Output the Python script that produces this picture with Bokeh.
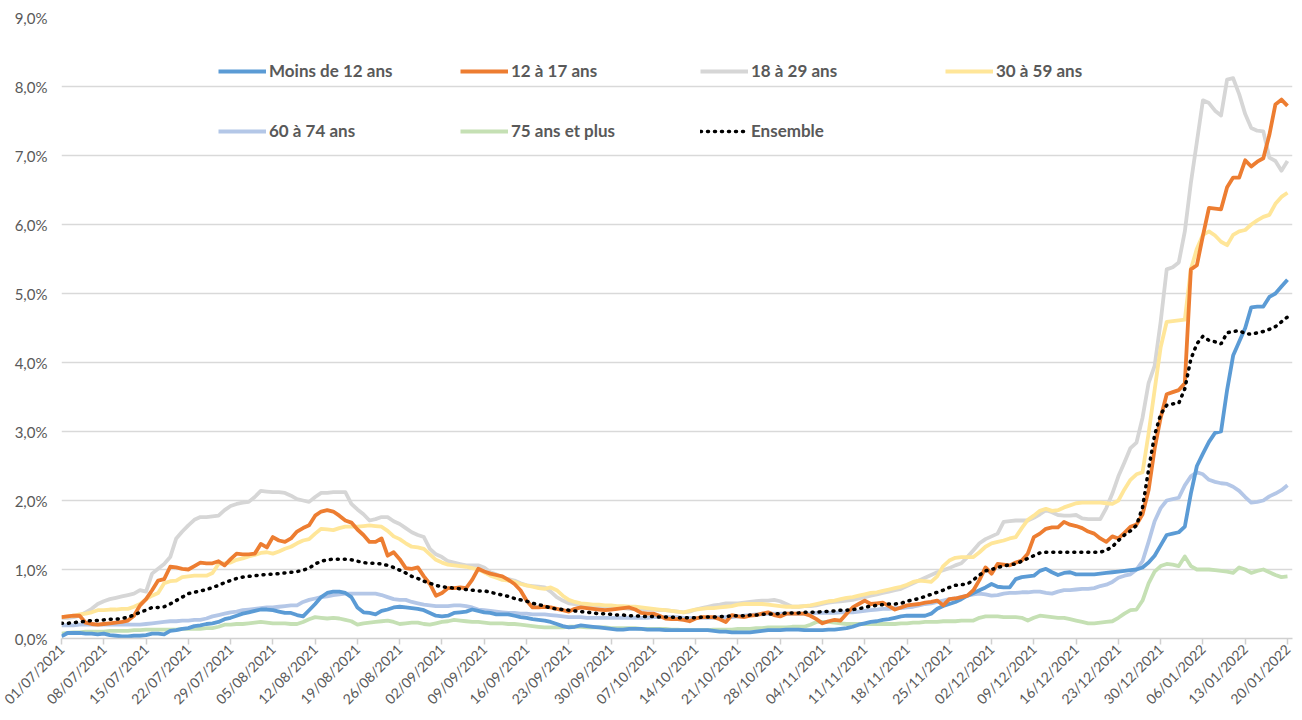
import math
from bokeh.plotting import figure
from bokeh.models import FixedTicker, Legend, LegendItem
from bokeh.embed import file_html
from bokeh.resources import INLINE

x_tick_labels = [
    "01/07/2021", "08/07/2021", "15/07/2021", "22/07/2021", "29/07/2021",
    "05/08/2021", "12/08/2021", "19/08/2021", "26/08/2021", "02/09/2021",
    "09/09/2021", "16/09/2021", "23/09/2021", "30/09/2021", "07/10/2021",
    "14/10/2021", "21/10/2021", "28/10/2021", "04/11/2021", "11/11/2021",
    "18/11/2021", "25/11/2021", "02/12/2021", "09/12/2021", "16/12/2021",
    "23/12/2021", "30/12/2021", "06/01/2022", "13/01/2022", "20/01/2022",
]
y_tick_labels = ["0,0%", "1,0%", "2,0%", "3,0%", "4,0%", "5,0%", "6,0%", "7,0%", "8,0%", "9,0%"]

series_names = ["Moins de 12 ans", "12 à 17 ans", "18 à 29 ans", "30 à 59 ans",
                "60 à 74 ans", "75 ans et plus", "Ensemble"]

# daily values (%), 01/07/2021 -> 20/01/2022, one row per week
moins12 = [
    0.03, 0.08, 0.08, 0.08, 0.07, 0.07, 0.06,
    0.07, 0.05, 0.04, 0.03, 0.03, 0.04, 0.04,
    0.05, 0.07, 0.07, 0.06, 0.11, 0.12, 0.14,
    0.15, 0.18, 0.19, 0.21, 0.22, 0.24, 0.28,
    0.30, 0.33, 0.36, 0.38, 0.40, 0.42, 0.42,
    0.41, 0.39, 0.37, 0.37, 0.34, 0.32, 0.41,
    0.50, 0.60, 0.66, 0.68, 0.68, 0.66, 0.60,
    0.45, 0.38, 0.37, 0.35, 0.40, 0.42, 0.45,
    0.46, 0.45, 0.44, 0.43, 0.41, 0.37, 0.33,
    0.32, 0.33, 0.37, 0.38, 0.39, 0.42, 0.40,
    0.38, 0.37, 0.35, 0.35, 0.35, 0.33, 0.31,
    0.30, 0.28, 0.27, 0.26, 0.24, 0.21, 0.18,
    0.16, 0.17, 0.19, 0.18, 0.17, 0.16, 0.15,
    0.14, 0.13, 0.13, 0.14, 0.14, 0.14, 0.13,
    0.13, 0.13, 0.12, 0.12, 0.12, 0.12, 0.12,
    0.12, 0.12, 0.12, 0.11, 0.10, 0.10, 0.09,
    0.09, 0.09, 0.09, 0.10, 0.11, 0.12, 0.12,
    0.12, 0.13, 0.13, 0.13, 0.12, 0.12, 0.12,
    0.12, 0.13, 0.13, 0.14, 0.15, 0.17, 0.20,
    0.22, 0.24, 0.25, 0.27, 0.28, 0.30, 0.32,
    0.33, 0.33, 0.33, 0.33, 0.36, 0.43, 0.47,
    0.50, 0.53, 0.57, 0.62, 0.66, 0.70, 0.74,
    0.79, 0.75, 0.74, 0.74, 0.86, 0.89, 0.90,
    0.91, 0.98, 1.01, 0.96, 0.92, 0.95, 0.96,
    0.93, 0.93, 0.93, 0.93, 0.94, 0.95, 0.96,
    0.97, 0.98, 0.99, 1.00, 1.03, 1.10, 1.20,
    1.35, 1.50, 1.52, 1.54, 1.62, 2.10, 2.50,
    2.68, 2.85, 2.98, 3.00, 3.60, 4.10, 4.30,
    4.50, 4.80, 4.81, 4.81, 4.95, 5.00, 5.10,
    5.20,
]
ans12_17 = [
    0.31, 0.32, 0.33, 0.33, 0.23, 0.21, 0.20,
    0.21, 0.22, 0.23, 0.24, 0.26, 0.33, 0.48,
    0.57, 0.70, 0.84, 0.86, 1.04, 1.03, 1.01,
    1.00, 1.05, 1.10, 1.09, 1.09, 1.12, 1.06,
    1.15, 1.23, 1.22, 1.22, 1.23, 1.37, 1.32,
    1.47, 1.42, 1.40, 1.45, 1.55, 1.60, 1.64,
    1.78, 1.84, 1.86, 1.84, 1.78, 1.71, 1.68,
    1.58, 1.50, 1.40, 1.40, 1.45, 1.20, 1.25,
    1.15, 1.02, 1.01, 1.03, 0.90, 0.79, 0.62,
    0.66, 0.73, 0.73, 0.74, 0.73, 0.85, 1.01,
    0.97, 0.94, 0.92, 0.90, 0.85, 0.79, 0.70,
    0.55, 0.45, 0.45, 0.46, 0.45, 0.43, 0.41,
    0.39, 0.43, 0.45, 0.44, 0.43, 0.42, 0.41,
    0.42, 0.43, 0.44, 0.45, 0.42, 0.37, 0.36,
    0.36, 0.33, 0.29, 0.28, 0.28, 0.27, 0.25,
    0.29, 0.31, 0.31, 0.31, 0.28, 0.24, 0.34,
    0.32, 0.31, 0.33, 0.34, 0.36, 0.38, 0.34,
    0.32, 0.36, 0.36, 0.36, 0.36, 0.33, 0.28,
    0.22, 0.25, 0.27, 0.26, 0.36, 0.45, 0.50,
    0.55, 0.50, 0.51, 0.52, 0.47, 0.42, 0.45,
    0.48, 0.49, 0.50, 0.52, 0.53, 0.55, 0.48,
    0.57, 0.58, 0.60, 0.62, 0.70, 0.85, 1.03,
    0.94, 1.08, 1.07, 1.06, 1.10, 1.13, 1.23,
    1.47, 1.52, 1.59, 1.61, 1.61, 1.69, 1.65,
    1.63, 1.60, 1.55, 1.52, 1.45, 1.40, 1.48,
    1.45, 1.53, 1.62, 1.65, 1.80, 2.15, 2.75,
    3.20, 3.54, 3.57, 3.60, 3.70, 5.35, 5.41,
    5.84, 6.24, 6.23, 6.22, 6.54, 6.68, 6.68,
    6.93, 6.84, 6.91, 6.96, 7.30, 7.74, 7.81,
    7.72,
]
ans18_29 = [
    0.30, 0.30, 0.31, 0.33, 0.38, 0.43, 0.50,
    0.54, 0.57, 0.59, 0.61, 0.63, 0.65, 0.70,
    0.68, 0.94, 1.01, 1.08, 1.18, 1.45, 1.55,
    1.64, 1.72, 1.76, 1.76, 1.77, 1.78, 1.86,
    1.92, 1.95, 1.97, 1.98, 2.05, 2.14, 2.13,
    2.12, 2.12, 2.11, 2.07, 2.02, 2.00, 1.98,
    2.05, 2.11, 2.11, 2.12, 2.12, 2.12, 1.95,
    1.87, 1.80, 1.71, 1.73, 1.76, 1.76, 1.70,
    1.66, 1.60, 1.54, 1.50, 1.47, 1.30, 1.22,
    1.18, 1.12, 1.10, 1.08, 1.06, 1.06, 1.06,
    1.03, 0.96, 0.93, 0.88, 0.86, 0.84, 0.80,
    0.77, 0.76, 0.75, 0.74, 0.68, 0.60, 0.55,
    0.51, 0.50, 0.48, 0.47, 0.46, 0.45, 0.45,
    0.44, 0.44, 0.44, 0.43, 0.43, 0.42, 0.42,
    0.42, 0.41, 0.41, 0.40, 0.39, 0.38, 0.39,
    0.42, 0.44, 0.46, 0.48, 0.49, 0.51, 0.51,
    0.51, 0.52, 0.53, 0.54, 0.55, 0.55, 0.56,
    0.54, 0.50, 0.46, 0.46, 0.47, 0.47, 0.48,
    0.50, 0.52, 0.53, 0.54, 0.55, 0.56, 0.58,
    0.60, 0.62, 0.64, 0.66, 0.68, 0.70, 0.72,
    0.76, 0.80, 0.84, 0.88, 0.92, 0.96, 0.99,
    1.02, 1.06, 1.09, 1.18, 1.28, 1.38, 1.44,
    1.48, 1.52, 1.69, 1.70, 1.71, 1.71, 1.71,
    1.75, 1.80, 1.86, 1.83, 1.79, 1.78, 1.78,
    1.79, 1.74, 1.73, 1.73, 1.73, 1.89, 2.10,
    2.35, 2.55, 2.76, 2.84, 3.20, 3.70, 3.95,
    4.59, 5.35, 5.38, 5.45, 5.90, 6.60, 7.20,
    7.80, 7.76, 7.65, 7.58, 8.10, 8.12, 7.89,
    7.60, 7.40, 7.36, 7.35, 6.97, 6.92, 6.78,
    6.92,
]
ans30_59 = [
    0.31, 0.32, 0.33, 0.35, 0.36, 0.38, 0.41,
    0.41, 0.42, 0.42, 0.43, 0.43, 0.46, 0.50,
    0.57, 0.62, 0.66, 0.80, 0.83, 0.84, 0.89,
    0.90, 0.91, 0.91, 0.91, 0.95, 1.08, 1.09,
    1.10, 1.14, 1.16, 1.19, 1.21, 1.24, 1.25,
    1.23, 1.26, 1.30, 1.33, 1.38, 1.42, 1.44,
    1.52, 1.59, 1.58, 1.57, 1.60, 1.62, 1.62,
    1.62, 1.63, 1.64, 1.63, 1.62, 1.56, 1.48,
    1.44, 1.38, 1.33, 1.32, 1.30, 1.22, 1.14,
    1.10, 1.07, 1.06, 1.05, 1.04, 1.02, 1.00,
    0.96, 0.91, 0.88, 0.85, 0.84, 0.82, 0.79,
    0.77, 0.75, 0.73, 0.72, 0.74, 0.70, 0.62,
    0.56, 0.53, 0.51, 0.50, 0.49, 0.49, 0.48,
    0.48, 0.47, 0.47, 0.46, 0.46, 0.45, 0.44,
    0.43, 0.42, 0.41, 0.40, 0.39, 0.38, 0.40,
    0.42, 0.43, 0.44, 0.44, 0.45, 0.46, 0.47,
    0.49, 0.50, 0.50, 0.50, 0.50, 0.49, 0.48,
    0.47, 0.46, 0.46, 0.46, 0.47, 0.48, 0.50,
    0.52, 0.54, 0.55, 0.57, 0.59, 0.60, 0.62,
    0.64, 0.66, 0.67, 0.69, 0.71, 0.73, 0.75,
    0.78, 0.82, 0.84, 0.83, 0.82, 0.90, 1.05,
    1.13, 1.17, 1.18, 1.18, 1.18, 1.25, 1.33,
    1.38, 1.40, 1.42, 1.45, 1.47, 1.60, 1.72,
    1.78, 1.85, 1.88, 1.85, 1.86, 1.90, 1.93,
    1.96, 1.97, 1.97, 1.97, 1.97, 1.96, 1.95,
    2.00, 2.16, 2.30, 2.38, 2.41, 2.97, 3.60,
    4.22, 4.59, 4.60, 4.61, 4.62, 5.35, 5.65,
    5.85, 5.90, 5.84, 5.75, 5.70, 5.85, 5.90,
    5.92, 6.00, 6.06, 6.11, 6.14, 6.30, 6.40,
    6.46,
]
ans60_74 = [
    0.19, 0.19, 0.19, 0.20, 0.20, 0.20, 0.20,
    0.20, 0.20, 0.20, 0.20, 0.20, 0.20, 0.20,
    0.21, 0.22, 0.23, 0.24, 0.25, 0.25, 0.26,
    0.26, 0.27, 0.27, 0.29, 0.32, 0.34, 0.36,
    0.38, 0.39, 0.41, 0.42, 0.43, 0.44, 0.45,
    0.45, 0.46, 0.47, 0.48, 0.48, 0.53, 0.56,
    0.58, 0.60, 0.61, 0.63, 0.64, 0.65, 0.65,
    0.65, 0.65, 0.65, 0.65, 0.63, 0.60, 0.57,
    0.56, 0.56, 0.53, 0.51, 0.49, 0.48, 0.47,
    0.47, 0.47, 0.48, 0.48, 0.47, 0.45, 0.42,
    0.41, 0.40, 0.39, 0.38, 0.37, 0.37, 0.36,
    0.36, 0.35, 0.35, 0.35, 0.34, 0.33, 0.32,
    0.31, 0.31, 0.31, 0.30, 0.30, 0.30, 0.30,
    0.30, 0.30, 0.30, 0.30, 0.30, 0.30, 0.30,
    0.31, 0.31, 0.31, 0.31, 0.31, 0.30, 0.30,
    0.30, 0.30, 0.30, 0.30, 0.31, 0.31, 0.31,
    0.32, 0.33, 0.34, 0.35, 0.35, 0.36, 0.36,
    0.36, 0.36, 0.36, 0.36, 0.36, 0.36, 0.37,
    0.37, 0.37, 0.37, 0.38, 0.38, 0.38, 0.39,
    0.40, 0.41, 0.42, 0.43, 0.43, 0.44, 0.44,
    0.45, 0.46, 0.48, 0.50, 0.51, 0.53, 0.55,
    0.57, 0.58, 0.60, 0.62, 0.64, 0.65, 0.64,
    0.62, 0.63, 0.65, 0.66, 0.66, 0.67, 0.67,
    0.68, 0.68, 0.66, 0.65, 0.68, 0.70, 0.70,
    0.71, 0.72, 0.72, 0.73, 0.76, 0.78, 0.82,
    0.88, 0.91, 0.93, 1.00, 1.12, 1.40, 1.70,
    1.89, 2.00, 2.02, 2.04, 2.22, 2.35, 2.41,
    2.38, 2.30, 2.27, 2.25, 2.24, 2.20, 2.14,
    2.05, 1.97, 1.98, 2.00, 2.06, 2.10, 2.15,
    2.22,
]
ans75_plus = [
    0.07, 0.08, 0.09, 0.09, 0.10, 0.10, 0.10,
    0.10, 0.11, 0.11, 0.11, 0.11, 0.12, 0.12,
    0.13, 0.13, 0.13, 0.13, 0.13, 0.13, 0.14,
    0.14, 0.14, 0.14, 0.15, 0.15, 0.17, 0.20,
    0.20, 0.21, 0.21, 0.22, 0.23, 0.24, 0.23,
    0.22, 0.22, 0.22, 0.21, 0.21, 0.24, 0.28,
    0.31, 0.30, 0.29, 0.30, 0.29, 0.27, 0.25,
    0.20, 0.22, 0.23, 0.24, 0.25, 0.26, 0.24,
    0.21, 0.22, 0.23, 0.23, 0.21, 0.20, 0.22,
    0.24, 0.25, 0.27, 0.26, 0.25, 0.24, 0.24,
    0.23, 0.22, 0.22, 0.22, 0.21, 0.21, 0.20,
    0.19, 0.18, 0.17, 0.16, 0.16, 0.16, 0.16,
    0.17, 0.17, 0.17, 0.16, 0.16, 0.16, 0.16,
    0.15, 0.15, 0.15, 0.15, 0.15, 0.14, 0.14,
    0.14, 0.14, 0.14, 0.13, 0.13, 0.12, 0.12,
    0.12, 0.12, 0.12, 0.13, 0.13, 0.13, 0.13,
    0.14, 0.14, 0.14, 0.15, 0.15, 0.16, 0.16,
    0.16, 0.16, 0.17, 0.17, 0.17, 0.20, 0.24,
    0.24, 0.24, 0.23, 0.22, 0.21, 0.21, 0.21,
    0.21, 0.21, 0.21, 0.21, 0.21, 0.21, 0.22,
    0.22, 0.23, 0.23, 0.24, 0.24, 0.24, 0.25,
    0.25, 0.25, 0.26, 0.26, 0.26, 0.30, 0.32,
    0.32, 0.32, 0.31, 0.31, 0.31, 0.30, 0.26,
    0.30, 0.33, 0.32, 0.31, 0.30, 0.30, 0.28,
    0.26, 0.24, 0.22, 0.22, 0.23, 0.24, 0.25,
    0.30, 0.36, 0.41, 0.42, 0.55, 0.80, 0.97,
    1.05, 1.08, 1.07, 1.05, 1.19, 1.05, 1.00,
    1.00, 1.00, 0.99, 0.98, 0.97, 0.95, 1.03,
    1.00, 0.95, 0.98, 1.00, 0.96, 0.92, 0.89,
    0.90,
]
ensemble = [
    0.22, 0.22, 0.23, 0.24, 0.25, 0.26, 0.26,
    0.27, 0.28, 0.28, 0.29, 0.31, 0.34, 0.38,
    0.41, 0.45, 0.45, 0.46, 0.50, 0.55, 0.60,
    0.65, 0.67, 0.69, 0.71, 0.74, 0.77, 0.81,
    0.84, 0.87, 0.89, 0.90, 0.91, 0.92, 0.93,
    0.93, 0.94, 0.95, 0.96, 0.97, 0.99, 1.02,
    1.08, 1.12, 1.14, 1.15, 1.15, 1.15, 1.14,
    1.12, 1.10, 1.09, 1.09, 1.08, 1.06, 1.03,
    0.99, 0.95, 0.90, 0.87, 0.83, 0.80, 0.77,
    0.75, 0.74, 0.73, 0.72, 0.71, 0.70, 0.69,
    0.69, 0.67, 0.65, 0.63, 0.61, 0.58, 0.56,
    0.54, 0.51, 0.49, 0.47, 0.44, 0.43, 0.42,
    0.41, 0.40, 0.39, 0.38, 0.37, 0.36, 0.36,
    0.35, 0.34, 0.34, 0.33, 0.33, 0.32, 0.32,
    0.32, 0.31, 0.31, 0.31, 0.30, 0.30, 0.30,
    0.30, 0.31, 0.31, 0.31, 0.32, 0.32, 0.33,
    0.33, 0.33, 0.34, 0.34, 0.35, 0.35, 0.36,
    0.36, 0.37, 0.37, 0.37, 0.38, 0.38, 0.38,
    0.39, 0.39, 0.40, 0.41, 0.41, 0.42, 0.43,
    0.45, 0.47, 0.48, 0.49, 0.50, 0.50, 0.51,
    0.54, 0.56, 0.58, 0.61, 0.64, 0.67, 0.70,
    0.74, 0.77, 0.78, 0.79, 0.85, 0.92, 0.98,
    1.00, 1.03, 1.05, 1.07, 1.08, 1.12, 1.16,
    1.20, 1.24, 1.25, 1.25, 1.25, 1.25, 1.25,
    1.25, 1.25, 1.25, 1.25, 1.25, 1.28, 1.33,
    1.42, 1.50, 1.56, 1.64, 1.90, 2.45, 2.95,
    3.25, 3.38, 3.40, 3.41, 3.62, 4.05, 4.27,
    4.38, 4.32, 4.30, 4.27, 4.43, 4.45, 4.46,
    4.42, 4.41, 4.43, 4.45, 4.48, 4.52, 4.59,
    4.66,
]

colors = ["#5B9BD5", "#ED7D31", "#D6D6D6", "#FFE699", "#B4C7E7", "#C5E0B4", "#000000"]

n_days = len(moins12)
days = list(range(n_days))
tick_days = [7 * i for i in range(len(x_tick_labels))]

TXT = "#595959"
FONT = "Lato"

p = figure(width=1294, height=718, output_backend="svg", toolbar_location=None,
           x_range=(0, n_days - 1 + 0.83), y_range=(0, 9),
           min_border_left=61, min_border_right=2, min_border_top=17, min_border_bottom=80)
p.outline_line_color = None
p.background_fill_color = "white"
p.border_fill_color = "white"

p.xgrid.grid_line_color = None
p.ygrid.grid_line_color = "#D9D9D9"
p.ygrid.grid_line_width = 1.5
p.ygrid.ticker = FixedTicker(ticks=list(range(len(y_tick_labels))))

p.yaxis.ticker = FixedTicker(ticks=list(range(len(y_tick_labels))))
p.yaxis.major_label_overrides = {i: lab for i, lab in enumerate(y_tick_labels)}
p.yaxis.axis_line_color = None
p.yaxis.major_tick_line_color = None
p.yaxis.minor_tick_line_color = None
p.yaxis.major_label_text_font = FONT
p.yaxis.major_label_text_font_size = "15px"
p.yaxis.major_label_text_color = TXT
p.yaxis.major_label_standoff = 8

p.xaxis.ticker = FixedTicker(ticks=tick_days)
p.xaxis.major_label_overrides = {d: lab for d, lab in zip(tick_days, x_tick_labels)}
p.xaxis.major_label_orientation = math.pi / 4
p.xaxis.axis_line_color = "#D0D0D0"
p.xaxis.axis_line_width = 1.5
p.xaxis.major_tick_line_color = "#D0D0D0"
p.xaxis.major_tick_line_width = 1.5
p.xaxis.major_tick_out = 6
p.xaxis.major_tick_in = 0
p.xaxis.minor_tick_line_color = None
p.xaxis.major_label_text_font = FONT
p.xaxis.major_label_text_font_size = "14px"
p.xaxis.major_label_text_color = TXT
p.xaxis.major_label_standoff = 2

data = [moins12, ans12_17, ans18_29, ans30_59, ans60_74, ans75_plus, ensemble]
renderers = {}
draw_order = [2, 3, 4, 5, 0, 1, 6]
for i in draw_order:
    if i == 6:
        r = p.line(days, data[i], line_color=colors[i], line_width=3.5,
                   line_dash="1 6", line_cap="round")
    else:
        r = p.line(days, data[i], line_color=colors[i], line_width=3.8, line_join="round")
    renderers[i] = r

col_x = [157, 399, 639, 884]
row_y = [557, 497]
for i, name in enumerate(series_names):
    row = i // 4
    col = i % 4
    leg = Legend(items=[LegendItem(label=name, renderers=[renderers[i]])],
                 location=(col_x[col], row_y[row]),
                 padding=0, margin=0, spacing=0,
                 border_line_color=None, background_fill_alpha=0,
                 glyph_width=48, glyph_height=20, label_height=20,
                 label_standoff=3,
                 label_text_font=FONT, label_text_font_size="17px",
                 label_text_font_style="bold", label_text_color=TXT)
    p.add_layout(leg)

open("out.html", "w").write(file_html(p, INLINE))
